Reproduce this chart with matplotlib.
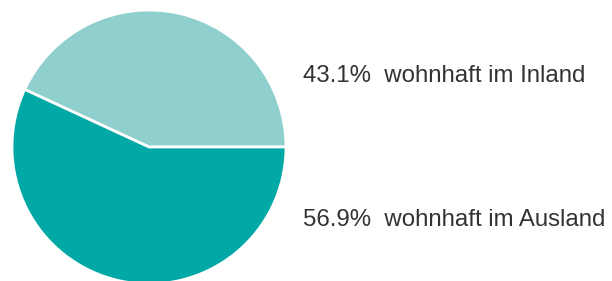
import matplotlib
matplotlib.use("Agg")
import matplotlib.pyplot as plt

# share of people by residence
labels = ["wohnhaft im Inland", "wohnhaft im Ausland"]
shares = [43.1, 56.9]
colors = ["#8fcfcd", "#00a8a6"]

W, H = 612, 281
fig = plt.figure(figsize=(W / 100, H / 100), dpi=100)

# pie centred at (149, 147) px from top-left, radius 137 px
cx, cy, r = 149, H - 147, 137
ax = fig.add_axes([(cx - r) / W, (cy - r) / H, 2 * r / W, 2 * r / H])
ax.pie(shares, colors=colors, startangle=0, counterclock=True, radius=1,
       wedgeprops=dict(edgecolor="white", linewidth=2))
ax.set_xlim(-1, 1)
ax.set_ylim(-1, 1)
ax.set_aspect("equal")
ax.axis("off")

label_y = [H - 76, H - 220]
for share, lab, y in zip(shares, labels, label_y):
    fig.text(303 / W, y / H, f"{share:.1f}%  {lab}", ha="left", va="center",
             fontsize=17.3, color="#333333", family="Liberation Sans")

fig.savefig("out.png", dpi=100)
